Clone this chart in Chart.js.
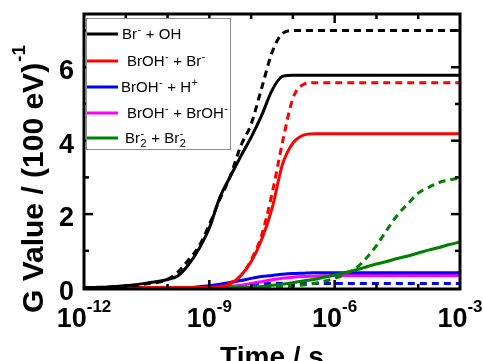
<!DOCTYPE html>
<html><head><meta charset="utf-8">
<script src="https://cdn.jsdelivr.net/npm/chart.js@4"></script>
<style>html,body{margin:0;padding:0;background:#fff;overflow:hidden}</style>
</head><body>
<canvas id="c" width="483" height="361"></canvas>
<script>
// ---- data ----
const logTimes = [-12,-11.5,-11,-10.5,-10,-9.75,-9.5,-9.25,-9,-8.75,-8.5,-8.25,-8,-7.75,-7.5,-7.25,-7,-6.75,-6.5,-6.25,-6,-5.75,-5.5,-5.25,-5,-4.75,-4.5,-4.25,-4,-3.75,-3.5,-3.25,-3];
const brOhSolid = [0,0.01,0.05,0.12,0.22,0.32,0.62,1.05,1.62,2.45,3.02,3.57,4.09,4.68,5.37,5.75,5.78,5.78,5.78,5.78,5.78,5.78,5.78,5.78,5.78,5.78,5.78,5.78,5.78,5.78,5.78,5.78,5.78];
const brOhDashed = [0,0.01,0.04,0.1,0.22,0.42,0.75,1.12,1.72,2.4,3.03,3.85,4.45,5.42,6.4,6.92,7.0,7.0,7.0,7.0,7.0,7.0,7.0,7.0,7.0,7.0,7.0,7.0,7.0,7.0,7.0,7.0,7.0];
const brohBrSolid = [0,0,0,0,0,0,0,0,0,0.02,0.1,0.32,0.7,1.3,2.15,3.35,3.93,4.15,4.19,4.19,4.19,4.19,4.19,4.19,4.19,4.19,4.19,4.19,4.19,4.19,4.19,4.19,4.19];
const brohBrDashed = [0,0,0,0,0,0,0,0,0,0.03,0.12,0.32,0.75,1.42,2.55,3.95,5.15,5.53,5.58,5.58,5.58,5.58,5.58,5.58,5.58,5.58,5.58,5.58,5.58,5.58,5.58,5.58,5.58];
const brohHSolid = [0,0,0,0,0,0,0,0.02,0.05,0.09,0.14,0.19,0.25,0.3,0.33,0.36,0.38,0.39,0.4,0.4,0.4,0.4,0.4,0.4,0.4,0.4,0.4,0.4,0.4,0.4,0.4,0.4,0.4];
const brohHDashed = [0,0,0,0,0,0,0,0,0,0,0.02,0.05,0.08,0.1,0.11,0.11,0.11,0.11,0.11,0.11,0.11,0.11,0.11,0.11,0.11,0.11,0.11,0.11,0.11,0.11,0.11,0.11,0.11];
const brohBrohSolid = [0,0,0,0,0,0,0,0,0,0.01,0.03,0.06,0.11,0.16,0.21,0.25,0.28,0.3,0.31,0.32,0.33,0.33,0.33,0.33,0.33,0.33,0.33,0.33,0.33,0.33,0.33,0.33,0.33];
const br2Solid = [0,0,0,0,0,0,0,0,0,0,0,0,0.01,0.03,0.06,0.09,0.13,0.18,0.22,0.28,0.34,0.41,0.48,0.56,0.64,0.71,0.79,0.86,0.94,1.02,1.09,1.17,1.24];
const br2Dashed = [0,0,0,0,0,0,0,0,0,0,0,0,0,0,0.01,0.02,0.04,0.07,0.11,0.17,0.25,0.36,0.52,0.79,1.14,1.57,1.97,2.28,2.57,2.73,2.86,2.93,2.99];

const legendLabels = ['Br\u207B + OH','BrOH\u207B + Br\u207B','BrOH\u207B + H\u207A','BrOH\u207B + BrOH\u207B','Br\u2082\u207B + Br\u2082\u207B'];
const legendRich = [
  [['Br'],['-','sup'],[' + OH']],
  [['BrOH'],['-','sup'],[' + Br'],['-','sup']],
  [['BrOH'],['-','sup'],[' + H'],['+','sup']],
  [['BrOH'],['-','sup'],[' + BrOH'],['-','sup']],
  [['Br'],['2','subsup','-'],[' + Br'],['2','subsup','-']]
];
const seriesColors = ['#000000','#ff0000','#0000ff','#ff00ff','#008000'];
const yTickValues = [0,2,4,6];
const yTickLabels = ['0','2','4','6'];
const xTickExponents = [-12,-9,-6,-3];
const xTickLabels = ['10','10','10','10'];
const xTitle = 'Time / s';
const yTitle = 'G Value / (100 eV)';
const yTitleSup = '-1';

function pts(vals){ return logTimes.map((e,i)=>({x:Math.pow(10,e), y:vals[i]})); }
function ds(label, vals, color, dashed){
  return {label, data:pts(vals), borderColor:color, backgroundColor:color, borderWidth:3,
    borderDash:dashed?[7,5]:[], pointRadius:0, fill:false, cubicInterpolationMode:'monotone', clip:4};
}
const datasets = [
  ds(legendLabels[0], brOhSolid, seriesColors[0], false),
  ds(legendLabels[0]+' (dashed)', brOhDashed, seriesColors[0], true),
  ds(legendLabels[1], brohBrSolid, seriesColors[1], false),
  ds(legendLabels[1]+' (dashed)', brohBrDashed, seriesColors[1], true),
  ds(legendLabels[4], br2Solid, seriesColors[4], false),
  ds(legendLabels[4]+' (dashed)', br2Dashed, seriesColors[4], true),
  ds(legendLabels[2], brohHSolid, seriesColors[2], false),
  ds(legendLabels[3], brohBrohSolid, seriesColors[3], false),
  ds(legendLabels[2]+' (dashed)', brohHDashed, seriesColors[2], true)
];

const FONT = '"Liberation Sans", Arial, sans-serif';

function drawRich(ctx, x, y, parts, size){
  let cx = x;
  for (const p of parts){
    const t = p[0], kind = p[1];
    if (!kind){
      ctx.font = size+'px '+FONT; ctx.fillText(t, cx, y); cx += ctx.measureText(t).width;
    } else if (kind==='sup'){
      ctx.font = Math.round(size*0.72)+'px '+FONT; ctx.fillText(t, cx+0.5, y-size*0.42); cx += ctx.measureText(t).width+1;
    } else if (kind==='subsup'){
      ctx.font = Math.round(size*0.72)+'px '+FONT;
      const w1 = ctx.measureText(t).width, w2 = ctx.measureText(p[2]).width;
      ctx.fillText(t, cx+0.5, y+size*0.28);
      ctx.fillText(p[2], cx+0.5, y-size*0.42);
      cx += Math.max(w1,w2)+1;
    }
  }
}

const decor = {
  id:'decor',
  beforeDraw(chart){
    const c = chart.ctx; c.save(); c.fillStyle='#fff'; c.fillRect(0,0,chart.width,chart.height); c.restore();
  },
  afterDatasetsDraw(chart){
    const c = chart.ctx, a = chart.chartArea, xs = chart.scales.x, ys = chart.scales.y;
    c.save();
    c.strokeStyle = '#000'; c.lineCap='butt';
    // ticks
    c.lineWidth = 2.5;
    for (let v=1; v<=7; v++){
      const y = ys.getPixelForValue(v), len = (v%2===0)?9:5;
      c.beginPath(); c.moveTo(a.left, y); c.lineTo(a.left+len, y); c.stroke();
      c.beginPath(); c.moveTo(a.right, y); c.lineTo(a.right-len, y); c.stroke();
    }
    for (let e=-11; e<=-4; e++){
      const x = xs.getPixelForValue(Math.pow(10,e)), len = (e%3===0)?9:5;
      c.beginPath(); c.moveTo(x, a.top); c.lineTo(x, a.top+len); c.stroke();
      c.beginPath(); c.moveTo(x, a.bottom); c.lineTo(x, a.bottom-len); c.stroke();
    }
    // frame
    c.lineWidth = 3;
    c.strokeRect(a.left, a.top, a.right-a.left, a.bottom-a.top);
    // legend
    const lx0 = a.left+2, ly0 = a.top+4, lx1 = 231, ly1 = 150;
    c.fillStyle = '#fff'; c.fillRect(lx0, ly0, lx1-lx0, ly1-ly0);
    c.lineWidth = 1; c.strokeStyle = '#8c8c8c';
    c.strokeRect(lx0+0.5, ly0+0.5, lx1-lx0-1, ly1-ly0-1);
    const rowsY = [34, 61, 87, 113, 138];
    const textX = [122, 127, 121, 127, 125];
    for (let i=0;i<5;i++){
      c.strokeStyle = seriesColors[i]; c.lineWidth = 3;
      c.beginPath(); c.moveTo(87, rowsY[i]); c.lineTo(118, rowsY[i]); c.stroke();
      c.fillStyle = '#000'; c.textBaseline = 'alphabetic'; c.textAlign='left';
      drawRich(c, textX[i], rowsY[i]+5, legendRich[i], 15);
    }
    // y tick labels
    c.fillStyle = '#000';
    c.font = 'bold 27px '+FONT; c.textAlign='right'; c.textBaseline='alphabetic';
    yTickValues.forEach((v,i)=>{ c.fillText(yTickLabels[i], 74, ys.getPixelForValue(v)+12); });
    // x tick labels
    xTickExponents.forEach((e,i)=>{
      const x = xs.getPixelForValue(Math.pow(10,e));
      c.font = 'bold 27px '+FONT; const w1 = c.measureText(xTickLabels[i]).width;
      const ex = String(e);
      c.font = 'bold 17px '+FONT; const w2 = c.measureText(ex).width;
      const start = x - (w1+w2)/2;
      c.textAlign='left';
      c.font = 'bold 27px '+FONT; c.fillText(xTickLabels[i], start, 327);
      c.font = 'bold 17px '+FONT; c.fillText(ex, start+w1, 312);
    });
    // x title
    c.font = 'bold 28px '+FONT; c.textAlign='center';
    c.fillText(xTitle, (a.left+a.right)/2, 366);
    // y title
    c.save();
    c.translate(43, 313); c.rotate(-Math.PI/2);
    c.textAlign='left'; c.font = 'bold 30px '+FONT;
    c.fillText(yTitle, 0, 0);
    const wt = c.measureText(yTitle).width;
    c.font = 'bold 19px '+FONT;
    c.fillText(yTitleSup, wt+1, -18);
    c.restore();
    c.restore();
  }
};

new Chart(document.getElementById('c').getContext('2d'), {
  type:'line',
  data:{datasets},
  options:{
    responsive:false, animation:false, devicePixelRatio:1,
    layout:{padding:{left:84,right:23,top:14,bottom:72}},
    plugins:{legend:{display:false}, tooltip:{enabled:false}, title:{display:false}},
    scales:{
      x:{type:'logarithmic', min:1e-12, max:1e-3, display:false},
      y:{type:'linear', min:-0.04, max:7.45, display:false}
    }
  },
  plugins:[decor]
});
</script>
</body></html>
